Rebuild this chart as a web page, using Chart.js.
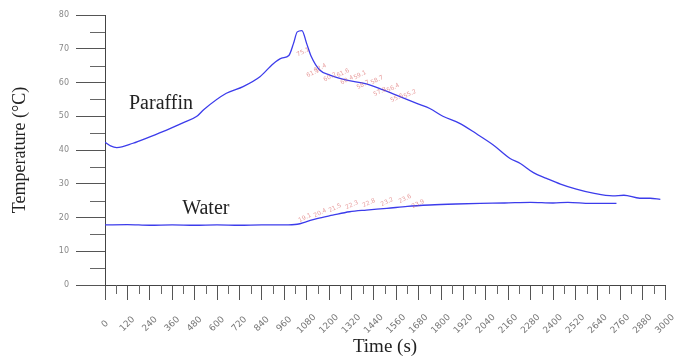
<!DOCTYPE html>
<html>
<head>
<meta charset="utf-8">
<script src="https://cdn.jsdelivr.net/npm/chart.js@4"></script>
<style>
  html, body { margin: 0; padding: 0; background: #fff; }
  #wrap { width: 675px; height: 358px; }
</style>
</head>
<body>
<div id="wrap"><canvas id="chart"></canvas></div>
<script>
// time (s) / temperature (C)
var paraffinTime = [0, 30, 63, 150, 240, 330, 420, 490, 530, 650, 740, 830, 900, 946, 985, 1010, 1030, 1055, 1080, 1105, 1150, 1205, 1295, 1400, 1490, 1580, 1670, 1740, 1810, 1900, 1990, 2080, 2170, 2225, 2295, 2365, 2440, 2525, 2615, 2720, 2780, 2865, 2920, 2975];
var paraffinTemp = [42.3, 41.2, 40.7, 42.0, 43.9, 45.9, 48.1, 49.9, 52.0, 56.8, 58.8, 61.7, 65.5, 67.2, 68.0, 71.6, 75.0, 75.4, 71.6, 67.7, 63.7, 62.2, 60.7, 59.6, 57.8, 55.8, 53.8, 52.3, 50.0, 47.9, 44.8, 41.5, 37.5, 36.0, 33.3, 31.6, 29.9, 28.4, 27.2, 26.4, 26.6, 25.7, 25.7, 25.4];

var waterTime = [0, 120, 240, 360, 480, 600, 720, 840, 960, 1030, 1080, 1135, 1220, 1310, 1400, 1510, 1620, 1740, 1880, 2010, 2140, 2280, 2400, 2480, 2600, 2740];
var waterTemp = [17.8, 17.9, 17.7, 17.8, 17.7, 17.8, 17.7, 17.8, 17.8, 18.0, 18.8, 19.7, 20.7, 21.7, 22.2, 22.7, 23.3, 23.7, 24.0, 24.2, 24.3, 24.5, 24.3, 24.5, 24.2, 24.2];

// small red value marks along the curves (barely legible in the picture)
var markTime = [1061, 1114, 1152, 1205, 1275, 1296, 1366, 1382, 1457, 1473, 1543, 1564, 1634, 1071, 1152, 1232, 1323, 1414, 1511, 1607, 1677];
var markTemp = [69.0, 62.8, 64.3, 61.6, 62.8, 60.7, 62.2, 59.3, 60.7, 57.2, 58.4, 55.4, 56.6, 19.9, 21.3, 22.8, 23.7, 24.3, 24.6, 25.5, 24.0];
var markText = ['75.1', '61.1', '62.4', '60.2', '61.6', '60.4', '59.1', '58.7', '58.7', '57.8', '56.4', '55.6', '55.2', '19.1', '20.4', '21.5', '22.3', '22.8', '23.2', '23.6', '23.9'];

var seriesNames = ['Paraffin', 'Water'];
var seriesNameTime = [300, 540];
var seriesNameTemp = [53.6, 22.5];

function toPoints(xs, ys) {
    var pts = [];
    for (var i = 0; i < xs.length; i++) {
        pts.push({x: xs[i], y: ys[i]});
    }
    return pts;
}

var lineColor = 'rgb(60,60,235)';

var extras = {
    id: 'extras',
    afterDraw: function (chart) {
        var ctx = chart.ctx;
        var xs = chart.scales.x;
        var ys = chart.scales.y;
        var i, px, py;
        ctx.save();

        // minor ticks
        ctx.strokeStyle = '#666';
        ctx.lineWidth = 1;
        ctx.beginPath();
        for (var v = 5; v < 80; v += 10) {
            py = Math.round(ys.getPixelForValue(v)) + 0.5;
            ctx.moveTo(ys.right - 15, py);
            ctx.lineTo(ys.right, py);
        }
        for (var t = 60; t < 3000; t += 120) {
            px = Math.round(xs.getPixelForValue(t)) + 0.5;
            ctx.moveTo(px, xs.top);
            ctx.lineTo(px, xs.top + 9);
        }
        ctx.stroke();

        // rotated x labels, centred under their ticks
        ctx.fillStyle = '#777';
        ctx.font = '9px "DejaVu Sans"';
        ctx.textAlign = 'center';
        ctx.textBaseline = 'middle';
        xs.ticks.forEach(function (tk) {
            px = xs.getPixelForValue(tk.value);
            ctx.save();
            ctx.translate(px, xs.top + 39);
            ctx.rotate(-Math.PI / 4);
            ctx.fillText(String(tk.value), 0, 0);
            ctx.restore();
        });

        // red value marks
        ctx.fillStyle = 'rgba(215,90,90,0.6)';
        ctx.font = '6px "DejaVu Sans"';
        for (i = 0; i < markText.length; i++) {
            px = xs.getPixelForValue(markTime[i]);
            py = ys.getPixelForValue(markTemp[i]);
            ctx.save();
            ctx.translate(px, py);
            ctx.rotate(-Math.PI / 7);
            ctx.fillText(markText[i], 0, 0);
            ctx.restore();
        }

        // series names
        ctx.fillStyle = '#222';
        ctx.font = '20px "Liberation Serif"';
        for (i = 0; i < seriesNames.length; i++) {
            ctx.fillText(seriesNames[i], xs.getPixelForValue(seriesNameTime[i]), ys.getPixelForValue(seriesNameTemp[i]));
        }
        ctx.restore();
    }
};

new Chart(document.getElementById('chart'), {
    type: 'line',
    data: {
        datasets: [
            {
                label: 'Paraffin',
                data: toPoints(paraffinTime, paraffinTemp),
                borderColor: lineColor,
                borderWidth: 1.3,
                pointRadius: 0,
                tension: 0.3,
                cubicInterpolationMode: 'monotone'
            },
            {
                label: 'Water',
                data: toPoints(waterTime, waterTemp),
                borderColor: lineColor,
                borderWidth: 1.3,
                pointRadius: 0,
                tension: 0.3,
                cubicInterpolationMode: 'monotone'
            }
        ]
    },
    options: {
        responsive: true,
        maintainAspectRatio: false,
        animation: false,
        layout: {padding: {top: 15, right: 10, left: 0, bottom: 0}},
        plugins: {legend: {display: false}, tooltip: {enabled: false}},
        scales: {
            x: {
                type: 'linear',
                min: 0,
                max: 3000,
                afterFit: function (scale) { scale.height = 73; },
                ticks: {display: false, stepSize: 120},
                grid: {drawOnChartArea: false, drawTicks: true, tickLength: 15, color: '#555'},
                border: {color: '#444', width: 1},
                title: {
                    display: true,
                    text: 'Time (s)',
                    color: '#222',
                    font: {family: '"Liberation Serif"', size: 19},
                    padding: {top: 0, bottom: 0}
                }
            },
            y: {
                min: 0,
                max: 80,
                afterFit: function (scale) { scale.width = 105; },
                ticks: {
                    stepSize: 10,
                    padding: 7,
                    color: '#888',
                    font: {family: '"DejaVu Sans"', size: 8}
                },
                grid: {drawOnChartArea: false, drawTicks: true, tickLength: 29, color: '#555'},
                border: {color: '#444', width: 1},
                title: {
                    display: true,
                    text: 'Temperature (°C)',
                    color: '#222',
                    font: {family: '"Liberation Serif"', size: 18},
                    padding: {top: 9, bottom: 0}
                }
            }
        }
    },
    plugins: [extras]
});
</script>
</body>
</html>
